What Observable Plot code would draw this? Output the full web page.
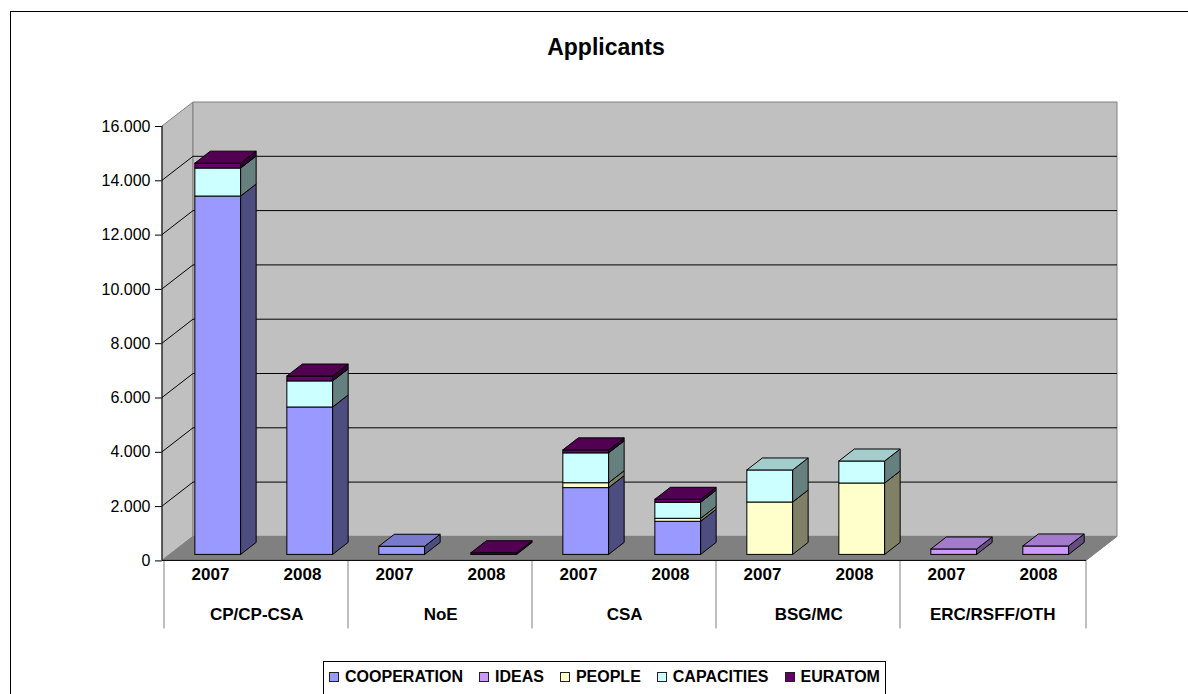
<!DOCTYPE html>
<html>
<head>
<meta charset="utf-8">
<script src="https://cdn.jsdelivr.net/npm/d3@7"></script>
<script src="https://cdn.jsdelivr.net/npm/@observablehq/plot@0.6"></script>
<style>
  html, body { margin: 0; padding: 0; background: #fff; }
  #wrap { position: relative; width: 1188px; height: 694px; overflow: hidden; font-family: "Liberation Sans", Arial, sans-serif; }
  #chart { position: absolute; left: 0; top: 0; }
  #border { position: absolute; left: 10px; top: 11px; width: 1220px; height: 720px; border: 1px solid #000; box-sizing: border-box; pointer-events: none; }
  #title { position: absolute; left: 0; top: 34px; width: 1212px; text-align: center; font-weight: bold; font-size: 23px; color: #000; }
  #legend { position: absolute; left: 323px; top: 661px; width: 563px; height: 40px; border: 1px solid #000; box-sizing: border-box; background: #fff;
            display: flex; align-items: flex-start; justify-content: center; padding-top: 6px; gap: 16px; font-weight: bold; font-size: 16px; }
  .item { display: flex; align-items: center; gap: 6px; white-space: nowrap; }
  .sw { width: 10px; height: 10px; border: 1px solid #222; box-sizing: border-box; }
</style>
</head>
<body>
<div id="wrap">
  <div id="chart"></div>
  <div id="title"></div>
  <div id="legend"></div>
  <div id="border"></div>
</div>
<script>
// ---------- data ----------
const title = "Applicants";
const groups = ["CP/CP-CSA", "NoE", "CSA", "BSG/MC", "ERC/RSFF/OTH"];
const years = ["2007", "2008"];
const seriesNames = ["COOPERATION", "IDEAS", "PEOPLE", "CAPACITIES", "EURATOM"];
// one value per bar, in order: group x year
const cooperation = [13200, 5430, 300, 0, 2460, 1220, 0, 0, 0, 0];
const ideas       = [0, 0, 0, 0, 0, 0, 0, 0, 200, 310];
const people      = [0, 0, 0, 0, 180, 110, 1930, 2630, 0, 0];
const capacities  = [1030, 960, 0, 0, 1100, 590, 1180, 810, 0, 0];
const euratom     = [180, 180, 0, 60, 110, 110, 0, 0, 0, 0];
const yTicks = [0, 2000, 4000, 6000, 8000, 10000, 12000, 14000, 16000];

// ---------- styles ----------
const frontColors = ["#9999FF", "#CC99FF", "#FFFFCC", "#CCFFFF", "#660066"];
const topColors   = ["#7A7ACC", "#A37ACC", "#CCCCA3", "#A3CCCC", "#520052"];
const sideColors  = ["#4D4D80", "#664D80", "#808066", "#668080", "#330033"];
const wallFill = "#C0C0C0", floorFill = "#808080", edge = "#808080";

// ---------- build table ----------
const seriesValues = [cooperation, ideas, people, capacities, euratom];
const bars = [];
groups.forEach((g, gi) => years.forEach((yr, yi) => bars.push({key: g + " " + yr, group: g, year: yr, i: gi * years.length + yi})));
const segs = [];
for (const b of bars) {
  let acc = 0, last = null;
  seriesValues.forEach((vals, s) => {
    const v = vals[b.i];
    if (v > 0) { last = {key: b.key, s, y1: acc, y2: acc + v, top: false}; segs.push(last); acc += v; }
  });
  if (last) last.top = true;
}
const firstOfGroup = bars.filter(b => b.year === years[0]);

// ---------- geometry (pixels) ----------
const W = 1188, H = 640;
const mLeft = 162, mRight = W - 1086, mTop = 126, mBottom = H - 560.4;
const WX = 31, WY = 24;          // wall depth offset
const BX = 7.75, BY = 6;         // bar front offset into depth
const DX = 15.5, DY = 12;        // bar depth
const step = (W - mLeft - mRight) / bars.length;
const inset = step / 4;

const fmt = v => d3.format(",")(v).replace(/,/g, ".");

function path(pts) { return "M" + pts.map(p => p.join(",")).join("L") + "Z"; }

// walls, floor, grid, table lines
function scene(index, scales, values, dims) {
  const {x, y} = scales;
  const x0 = dims.marginLeft, x1 = dims.width - dims.marginRight;
  const yTop = y(yTicks[yTicks.length - 1]), y0 = y(0);
  const g = d3.create("svg:g");
  g.append("path").attr("d", path([[x0, yTop], [x0, y0], [x0 + WX, y0 - WY], [x0 + WX, yTop - WY]]))
    .attr("fill", wallFill).attr("stroke", edge);
  g.append("path").attr("d", path([[x0 + WX, yTop - WY], [x1 + WX, yTop - WY], [x1 + WX, y0 - WY], [x0 + WX, y0 - WY]]))
    .attr("fill", wallFill).attr("stroke", edge);
  g.append("path").attr("d", path([[x0, y0], [x1, y0], [x1 + WX, y0 - WY], [x0 + WX, y0 - WY]]))
    .attr("fill", floorFill).attr("stroke", edge);
  for (const t of yTicks.slice(1, -1)) {
    const yy = y(t);
    g.append("path").attr("d", `M${x0},${yy}L${x0 + WX},${yy - WY}L${x1 + WX},${yy - WY}`)
      .attr("fill", "none").attr("stroke", "#000");
  }
  // front axis and category table
  g.append("line").attr("x1", x0).attr("x2", x0).attr("y1", yTop).attr("y2", y0).attr("stroke", "#000");
  const tableBottom = y0 + 68;
  for (const b of firstOfGroup) {
    const xx = x(b.key);
    g.append("line").attr("x1", xx).attr("x2", xx).attr("y1", y0).attr("y2", tableBottom).attr("stroke", "#808080");
  }
  g.append("line").attr("x1", x1).attr("x2", x1).attr("y1", y0).attr("y2", tableBottom).attr("stroke", "#808080");
  g.append("line").attr("x1", x0).attr("x2", x1).attr("y1", y0).attr("y2", y0).attr("stroke", "#000");
  return g.node();
}

// bar side and top faces
function faces(index, scales, values, dims) {
  const {x, y} = scales;
  const bw = x.bandwidth();
  const g = d3.create("svg:g").attr("stroke", "#000").attr("stroke-width", 1);
  for (const r of segs) {
    const xl = x(r.key) + inset + BX, xr = x(r.key) + bw - inset + BX;
    const yt = y(r.y2) - BY, yb = y(r.y1) - BY;
    g.append("path").attr("d", path([[xr, yb], [xr, yt], [xr + DX, yt - DY], [xr + DX, yb - DY]]))
      .attr("fill", sideColors[r.s]);
    if (r.top) {
      g.append("path").attr("d", path([[xl, yt], [xr, yt], [xr + DX, yt - DY], [xl + DX, yt - DY]]))
        .attr("fill", topColors[r.s]);
    }
  }
  return g.node();
}

const chart = Plot.plot({
  width: W, height: H,
  marginLeft: mLeft, marginRight: mRight, marginTop: mTop, marginBottom: mBottom,
  style: {background: "transparent", fontFamily: "'Liberation Sans', Arial, sans-serif", fontSize: "16px", color: "#000", overflow: "visible"},
  x: {domain: bars.map(b => b.key), padding: 0, axis: null},
  y: {domain: [0, yTicks[yTicks.length - 1]], ticks: yTicks, tickFormat: fmt, tickSize: 7, tickPadding: 5, label: null, grid: false},
  color: {type: "identity"},
  marks: [
    scene,
    Plot.barY(segs, {x: "key", y1: "y1", y2: "y2", fill: d => frontColors[d.s], stroke: "#000", strokeWidth: 1,
      insetLeft: inset, insetRight: inset, dx: BX, dy: -BY}),
    faces,
    Plot.text(bars, {x: "key", text: "year", frameAnchor: "bottom", dy: 19, fontWeight: "bold", fontSize: 17, fill: "#000"}),
    Plot.text(firstOfGroup, {x: "key", text: "group", frameAnchor: "bottom", dx: step / 2, dy: 59, fontWeight: "bold", fontSize: 17, fill: "#000"})
  ]
});
document.getElementById("chart").appendChild(chart);
document.getElementById("title").textContent = title;

const legend = document.getElementById("legend");
seriesNames.forEach((n, s) => {
  const it = document.createElement("div"); it.className = "item";
  const sw = document.createElement("div"); sw.className = "sw"; sw.style.background = frontColors[s];
  const tx = document.createElement("span"); tx.textContent = n;
  it.appendChild(sw); it.appendChild(tx); legend.appendChild(it);
});
</script>
</body>
</html>
